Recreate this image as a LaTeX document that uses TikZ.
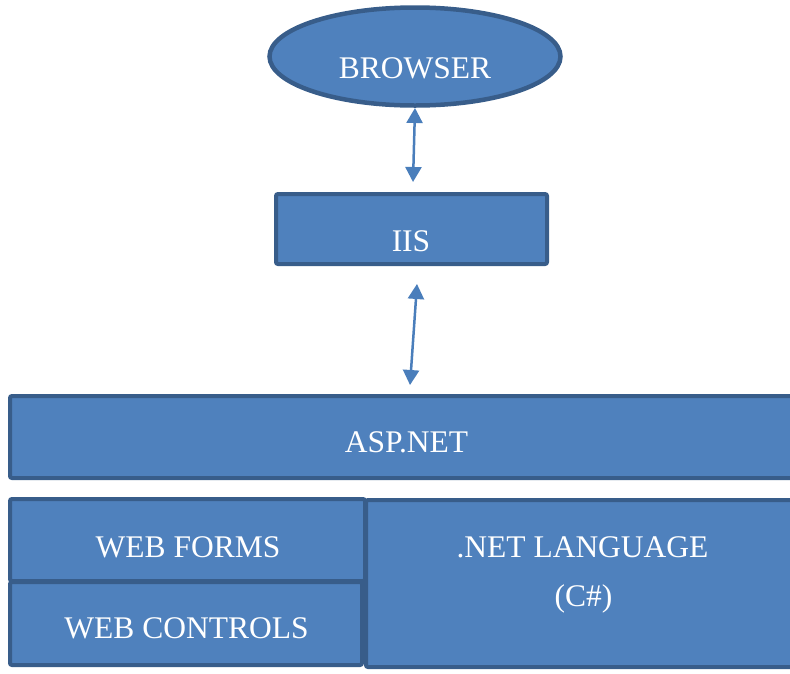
\documentclass[tikz,border=0pt]{standalone}
\usepackage{fontspec}
\setmainfont{Liberation Serif}
\usetikzlibrary{shapes.geometric,arrows.meta}
\definecolor{boxfill}{HTML}{4F81BD}
\definecolor{boxline}{HTML}{385D8A}
\definecolor{arrowcol}{HTML}{4A7EBB}
\tikzset{
  blockbox/.style={draw=boxline, fill=boxfill, line width=4pt, rounded corners=2pt, inner sep=0pt},
  ovalbox/.style={ellipse, draw=boxline, fill=boxfill, line width=4.5pt, inner sep=0pt},
  lbl/.style={text=white, anchor=base, inner sep=0pt, font=\fontsize{31.5}{36}\selectfont},
  dblarrow/.style={draw=arrowcol, line width=2.5pt, {Triangle[length=15pt,width=16pt]}-{Triangle[length=15pt,width=16pt]}}
}
\begin{document}
\begin{tikzpicture}[x=1pt,y=-1pt]
\clip (0,0) rectangle (790,673);
% shapes
\node[ovalbox, minimum width=291pt, minimum height=98pt] (browser) at (415,56.5) {};
\node[blockbox, minimum width=271pt, minimum height=70pt] (iis) at (411.5,229) {};
\node[blockbox, minimum width=790pt, minimum height=82pt] (asp) at (405,437) {};
\node[blockbox, minimum width=355pt, minimum height=82pt] (forms) at (187.5,540) {};
\node[blockbox, minimum width=352pt, minimum height=83pt] (controls) at (186,623.5) {};
\node[blockbox, minimum width=434pt, minimum height=167pt] (lang) at (583,583.5) {};
% labels
\node[lbl] (browser-t) at (415,78) {BROWSER};
\node[lbl] (iis-t) at (411,251) {IIS};
\node[lbl] (asp-t) at (406.5,452) {ASP.NET};
\node[lbl] (forms-t) at (188,557) {WEB FORMS};
\node[lbl] (controls-t) at (186.5,638) {WEB CONTROLS};
\node[lbl] (lang-t) at (582.5,557) {.NET LANGUAGE};
\node[lbl] (c-t) at (583.5,606) {(C\#)};
% connectors
\coordinate (a1s) at (415,108);
\coordinate (a1e) at (413,182);
\coordinate (a2s) at (417,284);
\coordinate (a2e) at (410,385);
\draw[dblarrow] (a1s) -- (a1e);
\draw[dblarrow] (a2s) -- (a2e);
\end{tikzpicture}
\end{document}
